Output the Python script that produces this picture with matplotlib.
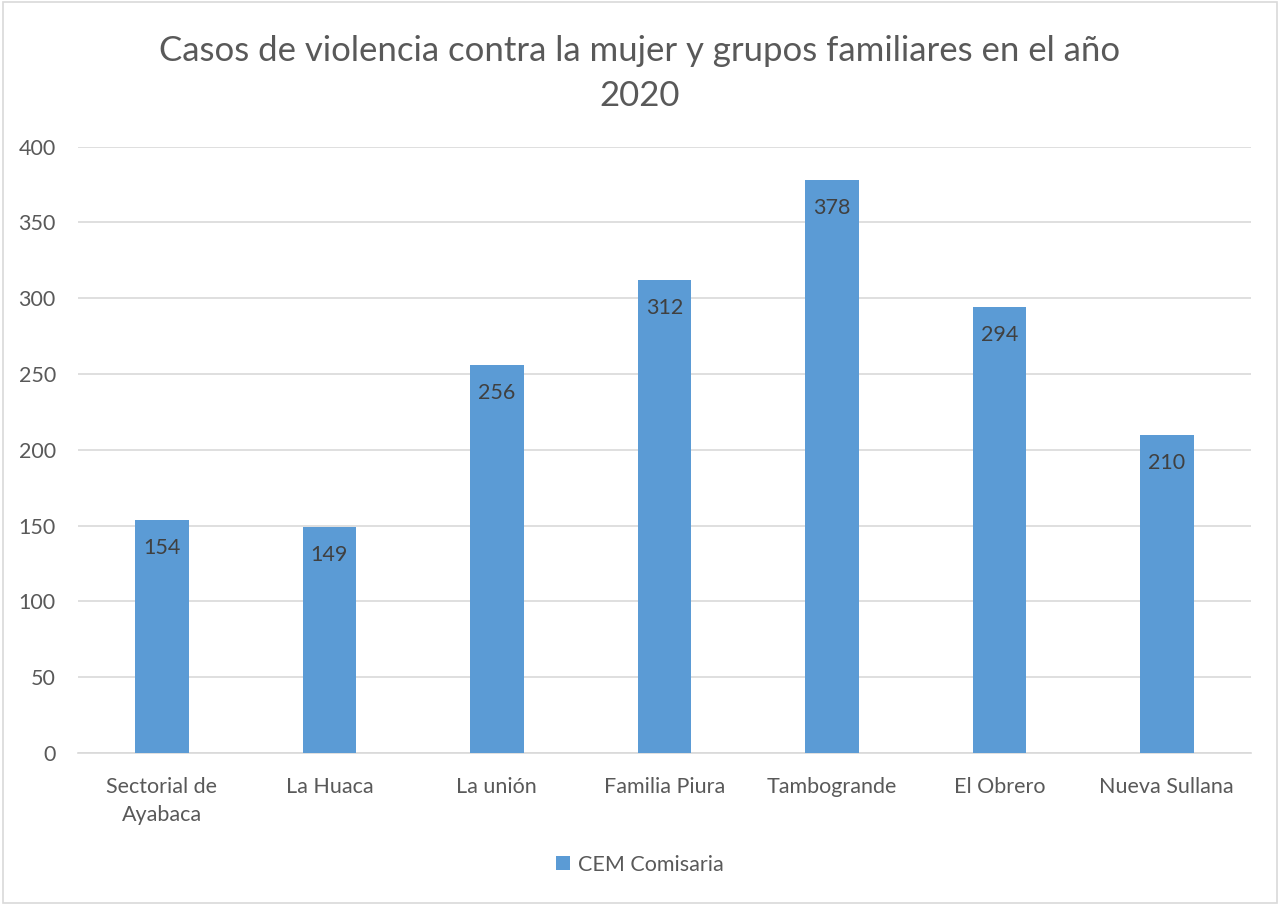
import matplotlib.pyplot as plt
from matplotlib.patches import Rectangle

# Data
categories = ['Sectorial de\nAyabaca', 'La Huaca', 'La unión', 'Familia Piura',
              'Tambogrande', 'El Obrero', 'Nueva Sullana']
values = [154, 149, 256, 312, 378, 294, 210]
series_name = 'CEM Comisaria'
yticks = [0, 50, 100, 150, 200, 250, 300, 350, 400]

plt.rcParams['font.family'] = ['Lato', 'DejaVu Sans']

fig = plt.figure(figsize=(12.8, 9.05), dpi=100)
ax = fig.add_axes([0.061, 0.168, 0.916, 0.670])

bar_color = '#5b9bd5'
text_color = '#595959'

x = range(len(categories))
bars = ax.bar(x, values, width=0.32, color=bar_color, label=series_name, zorder=3)

# Value labels inside the bar tops
for i, v in enumerate(values):
    ax.annotate(f'{v}', (i, v), xytext=(0, -13), textcoords='offset points',
                ha='center', va='top', fontsize=15.5, color='#404040', zorder=4)

ax.set_xlim(-0.5, len(categories) - 0.5)
ax.set_ylim(0, 400)
ax.set_yticks(yticks)
ax.set_xticks(list(x))
ax.set_xticklabels(categories, fontsize=15.5, color=text_color, linespacing=1.55)
ax.tick_params(axis='y', labelsize=15.5, labelcolor=text_color, length=0, pad=16)
ax.tick_params(axis='x', length=0, pad=17)

ax.grid(axis='y', color='#d9d9d9', linewidth=1.2, zorder=0)
for s in ['top', 'right', 'left']:
    ax.spines[s].set_visible(False)
ax.spines['bottom'].set_color('#d9d9d9')
ax.spines['bottom'].set_linewidth(1.2)

fig.suptitle('Casos de violencia contra la mujer y grupos familiares en el año\n2020',
             y=0.961, fontsize=25, color=text_color, linespacing=1.5)

fig.legend(loc='lower center', bbox_to_anchor=(0.5, 0.012), frameon=False,
           fontsize=15.5, labelcolor=text_color, handlelength=0.65, handleheight=0.65,
           handletextpad=0.35)

# Outer chart border
fig.patches.append(Rectangle((0.002, 0.002), 0.996, 0.996, transform=fig.transFigure,
                             fill=False, edgecolor='#d9d9d9', linewidth=1.2))

fig.savefig('out.png', dpi=100)
